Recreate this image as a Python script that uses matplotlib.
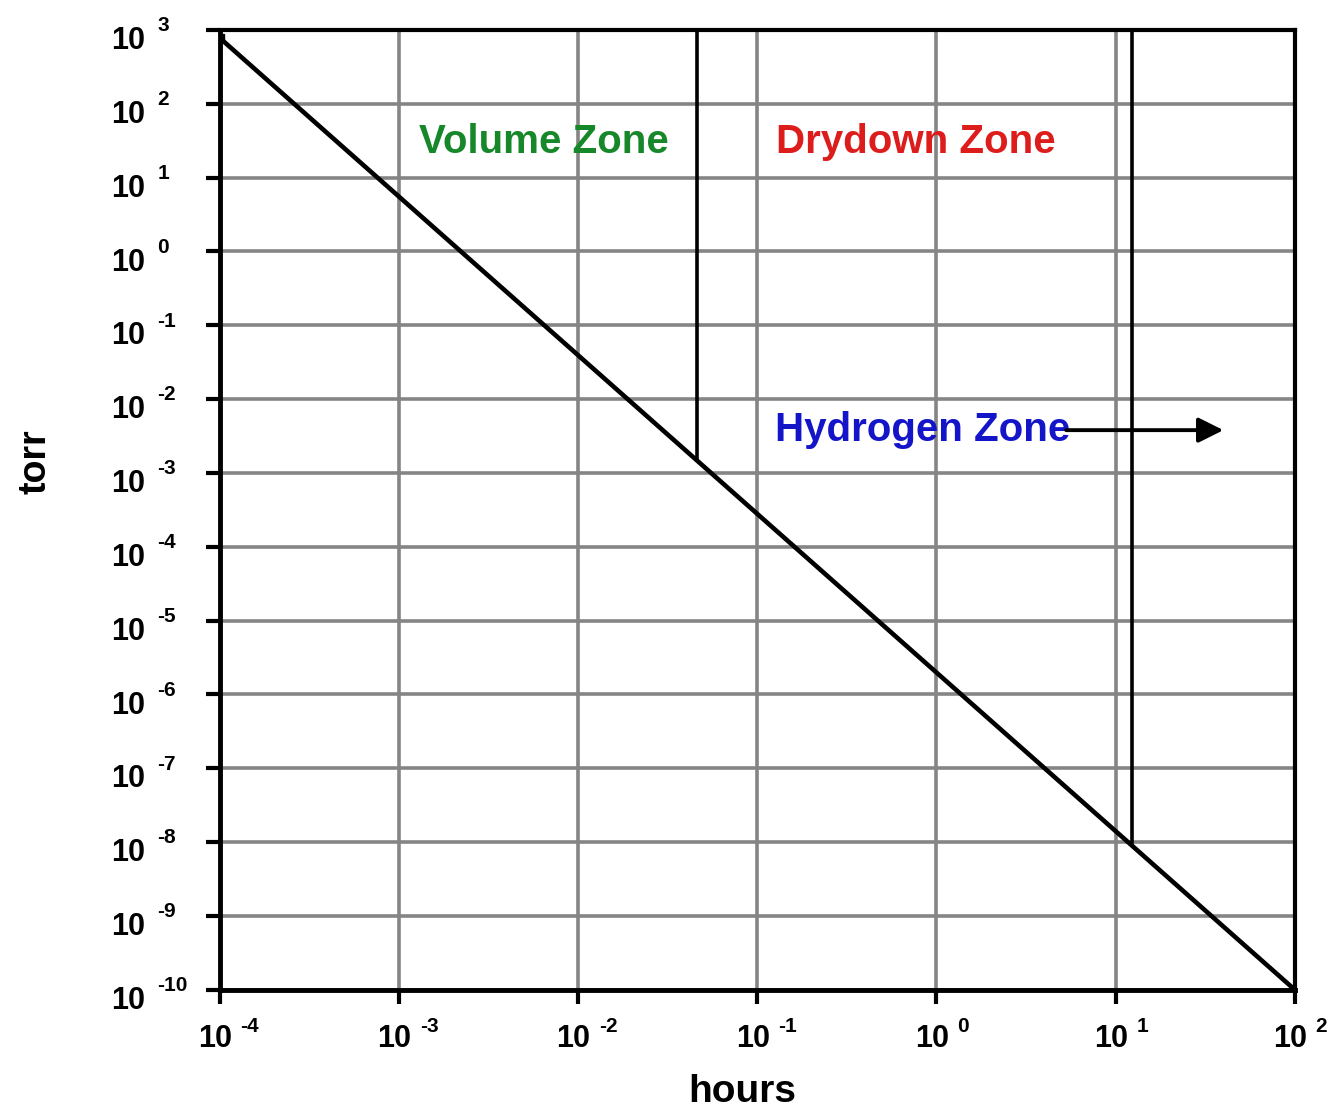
import matplotlib.pyplot as plt
import numpy as np

plt.rcParams['font.family'] = ['Liberation Sans', 'DejaVu Sans']
plt.rcParams['font.weight'] = 'bold'

# pumpdown curve end points (hours, torr)
curve_hours = [1e-4, 1e2]
curve_torr = [7.8e2, 1e-10]

# zone boundaries: (hours, lower torr end)
boundary_hours = [0.046, 12.3]
boundary_torr = [1.5e-3, 1e-8]

x_decades = np.arange(-4, 3)
y_decades = np.arange(-10, 4)

zones = ['Volume Zone', 'Drydown Zone', 'Hydrogen Zone']
zone_hours = [1.3e-3, 0.128, 0.125]
zone_torr = [30, 30, 3.8e-3]
zone_colors = ['#17882a', '#dd1c1c', '#1414c8']
arrow_start = 5.3
arrow_end = (40, 3.8e-3)

fig = plt.figure(figsize=(13.32, 11.12), dpi=100)
ax = fig.add_axes([0.165, 0.11, 0.807, 0.863])
ax.set_xscale('log')
ax.set_yscale('log')
ax.set_xlim(1e-4, 1e2)
ax.set_ylim(1e-10, 1e3)

ax.grid(True, which='major', color='#858585', lw=2.6)
ax.minorticks_off()
ax.set_axisbelow(True)

ax.plot(curve_hours, curve_torr, color='black', lw=3.3, solid_capstyle='butt')
ax.plot(curve_hours, curve_torr, 's', color='black', ms=6)
for h, t in zip(boundary_hours, boundary_torr):
    ax.plot([h, h], [t, 1e3], color='black', lw=2.6, clip_on=False)

for name, h, t, c in zip(zones, zone_hours, zone_torr, zone_colors):
    ax.text(h, t, name, color=c, fontsize=29, fontweight='bold',
            ha='left', va='center')

ax.annotate('', xy=arrow_end, xytext=(arrow_start, arrow_end[1]),
            arrowprops=dict(arrowstyle='-|>', color='black', lw=2.8,
                            mutation_scale=38, shrinkA=0, shrinkB=0))

ax.set_xticks(10.0 ** x_decades)
ax.set_yticks(10.0 ** y_decades)
ax.set_xticklabels([])
ax.set_yticklabels([])
ax.tick_params(direction='out', length=10, width=3, color='black')

for e in x_decades:
    ax.annotate('10', xy=(10.0 ** e, 0), xycoords=ax.get_xaxis_transform(),
                xytext=(9, -25), textcoords='offset points',
                ha='right', va='top', fontsize=22, fontweight='bold')
    ax.annotate(str(e), xy=(10.0 ** e, 0), xycoords=ax.get_xaxis_transform(),
                xytext=(15, -20), textcoords='offset points',
                ha='left', va='top', fontsize=15, fontweight='bold')
for e in y_decades:
    ax.annotate('10', xy=(0, 10.0 ** e), xycoords=ax.get_yaxis_transform(),
                xytext=(-78, -8), textcoords='offset points',
                ha='left', va='center', fontsize=22, fontweight='bold')
    ax.annotate(str(e), xy=(0, 10.0 ** e), xycoords=ax.get_yaxis_transform(),
                xytext=(-45, 3), textcoords='offset points',
                ha='left', va='center', fontsize=15, fontweight='bold')

for side in ['left', 'bottom']:
    ax.spines[side].set_linewidth(3.5)
for side in ['top', 'right']:
    ax.spines[side].set_linewidth(3)

fig.text(0.557, 0.018, 'hours', ha='center', va='center',
         fontsize=28, fontweight='bold')
fig.text(0.027, 0.585, 'torr', ha='center', va='center', rotation=90,
         fontsize=27, fontweight='bold')

fig.savefig('out.png', dpi=100)
